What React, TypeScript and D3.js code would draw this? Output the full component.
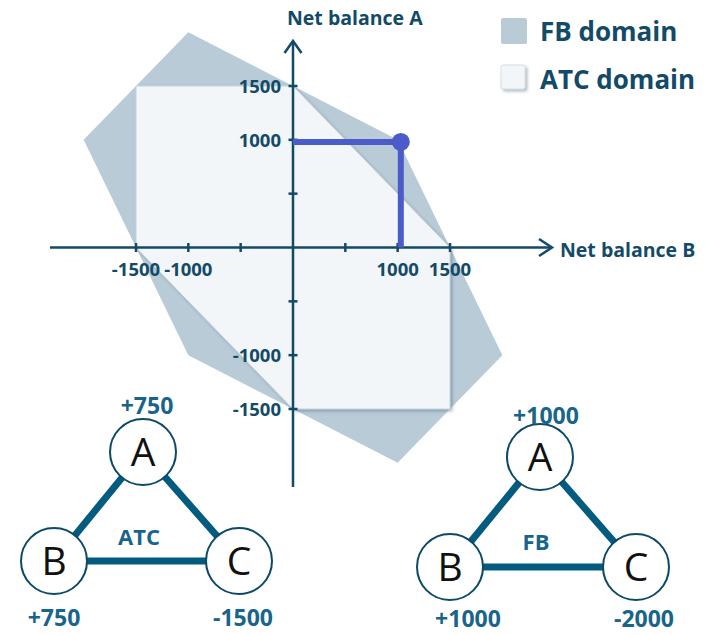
import React from 'react';
import * as d3 from 'd3';

// feasible domains (net balance B, net balance A)
const fbDomain: [number, number][] = [
  [-1000, 2000], [-2000, 1000], [-1000, -1000], [1000, -2000], [2000, -1000], [1000, 1000],
];
const atcDomain: [number, number][] = [
  [-1500, 1500], [0, 1500], [1500, 0], [1500, -1500], [0, -1500], [-1500, 0],
];
const xTicks = [-1500, -1000, -500, 500, 1000, 1500];
const yTicks = [-1500, -1000, -500, 500, 1000, 1500];
const xTickLabels = [-1500, -1000, 1000, 1500];
const yTickLabels = [1500, 1000, -1000, -1500];
// selected point
const flowPath: [number, number][] = [[0, 980], [1030, 980], [1030, 0]];
const flowPoint: [number, number] = [1030, 980];

const legendItems = ['FB domain', 'ATC domain'];

// hub triangles
const nodeNames = ['A', 'B', 'C'];
const atcBalances = ['+750', '+750', '-1500'];
const fbBalances = ['+1000', '+1000', '-2000'];

const TXT = '#134a68';
const EDGE = '#035b80';
const FONT = '"Open Sans", sans-serif';

const x = d3.scaleLinear().domain([-1500, 1500]).range([136, 450]);
const y = d3.scaleLinear().domain([-1500, 1500]).range([409, 86]);

const poly = d3.line<[number, number]>().x(d => x(d[0])).y(d => y(d[1])).curve(d3.curveLinearClosed);
const path = d3.line<[number, number]>().x(d => x(d[0])).y(d => y(d[1]));

type Tri = {
  title: string;
  balances: string[];
  centers: [number, number][];
  titlePos: [number, number];
  labelPos: [number, number][];
};

const Triangle = ({ t }: { t: Tri }) => {
  const [a, b, c] = t.centers;
  const edges = [[a, b], [a, c], [b, c]];
  return (
    <g>
      {edges.map((e, i) => (
        <line key={i} x1={e[0][0]} y1={e[0][1]} x2={e[1][0]} y2={e[1][1]} stroke={EDGE} strokeWidth={7} />
      ))}
      {t.centers.map((p, i) => (
        <g key={i}>
          <circle cx={p[0]} cy={p[1]} r={33} fill="#fff" stroke="#0d4a66" strokeWidth={2} />
          <text x={p[0]} y={p[1] + 14} textAnchor="middle" fontSize={39} fontFamily={FONT} fill="#111">
            {nodeNames[i]}
          </text>
        </g>
      ))}
      {t.balances.map((v, i) => (
        <text key={i} x={t.labelPos[i][0]} y={t.labelPos[i][1]} textAnchor="middle" fontSize={23}
          fontWeight={700} fontFamily={FONT} fill="#19648a">{v}</text>
      ))}
      <text x={t.titlePos[0]} y={t.titlePos[1]} textAnchor="middle" fontSize={22} fontWeight={700}
        fontFamily={FONT} fill="#19648a">{t.title}</text>
    </g>
  );
};

const triangles: Tri[] = [
  {
    title: 'ATC', balances: atcBalances,
    centers: [[143, 452], [54, 561], [239, 561]],
    titlePos: [139, 545],
    labelPos: [[147, 414], [54, 626], [243, 626]],
  },
  {
    title: 'FB', balances: fbBalances,
    centers: [[540, 457], [450, 567], [636, 567]],
    titlePos: [536, 550],
    labelPos: [[546, 424], [468, 627], [644, 627]],
  },
];

export default function App() {
  const x0 = x(0), y0 = y(0);
  return (
    <svg width={710} height={635} style={{ position: 'absolute', left: 0, top: 0, background: '#fff' }}>
      <defs>
        <filter id="shadow" x="-10%" y="-10%" width="130%" height="130%">
          <feDropShadow dx={2} dy={2} stdDeviation={1.8} floodColor="#4d6f82" floodOpacity={0.45} />
        </filter>
      </defs>

      <path d={poly(fbDomain) || ''} fill="#b8cbd6" />
      <path d={poly(atcDomain) || ''} fill="#f3f6f9" stroke="#c5d3dc" strokeWidth={1} filter="url(#shadow)" />

      {/* axes */}
      <g stroke={TXT} strokeWidth={2.5} fill="none">
        <line x1={50} y1={y0} x2={552} y2={y0} />
        <line x1={x0} y1={487} x2={x0} y2={41} />
        <path d={`M${539},${y0 - 8.5} L${552},${y0} L${539},${y0 + 8.5}`} strokeLinejoin="miter" />
        <path d={`M${x0 - 8.5},${53} L${x0},${41} L${x0 + 8.5},${53}`} />
        {xTicks.map(t => <line key={t} x1={x(t)} x2={x(t)} y1={y0 - 4.5} y2={y0 + 4.5} />)}
        {yTicks.map(t => <line key={t} x1={x0 - 4.5} x2={x0 + 4.5} y1={y(t)} y2={y(t)} />)}
      </g>
      <g fontFamily={FONT} fontWeight={700} fill={TXT} fontSize={18.5}>
        {xTickLabels.map(t => (
          <text key={t} x={x(t)} y={y0 + 28} textAnchor="middle">{t}</text>
        ))}
        {yTickLabels.map(t => (
          <text key={t} x={281} y={y(t) + 7} textAnchor="end">{t}</text>
        ))}
        <text x={287} y={25} fontSize={19.5}>Net balance A</text>
        <text x={560} y={257} fontSize={19.5}>Net balance B</text>
      </g>

      {/* selected point */}
      <path d={path(flowPath) || ''} fill="none" stroke="#4b5bc9" strokeWidth={6} />
      <circle cx={x(flowPoint[0])} cy={y(flowPoint[1])} r={9} fill="#4b5bc9" />

      {/* legend */}
      <g fontFamily={FONT} fontWeight={700} fill={TXT} fontSize={26}>
        <rect x={501} y={18} width={26} height={26} rx={2} fill="#b8cbd6" />
        <rect x={501} y={65} width={24} height={24} rx={2} fill="#f3f6f9" stroke="#d5dee4" filter="url(#shadow)" />
        {legendItems.map((d, i) => (
          <text key={d} x={540} y={41 + i * 48}>{d}</text>
        ))}
      </g>

      {triangles.map((t, i) => <Triangle key={i} t={t} />)}
    </svg>
  );
}
